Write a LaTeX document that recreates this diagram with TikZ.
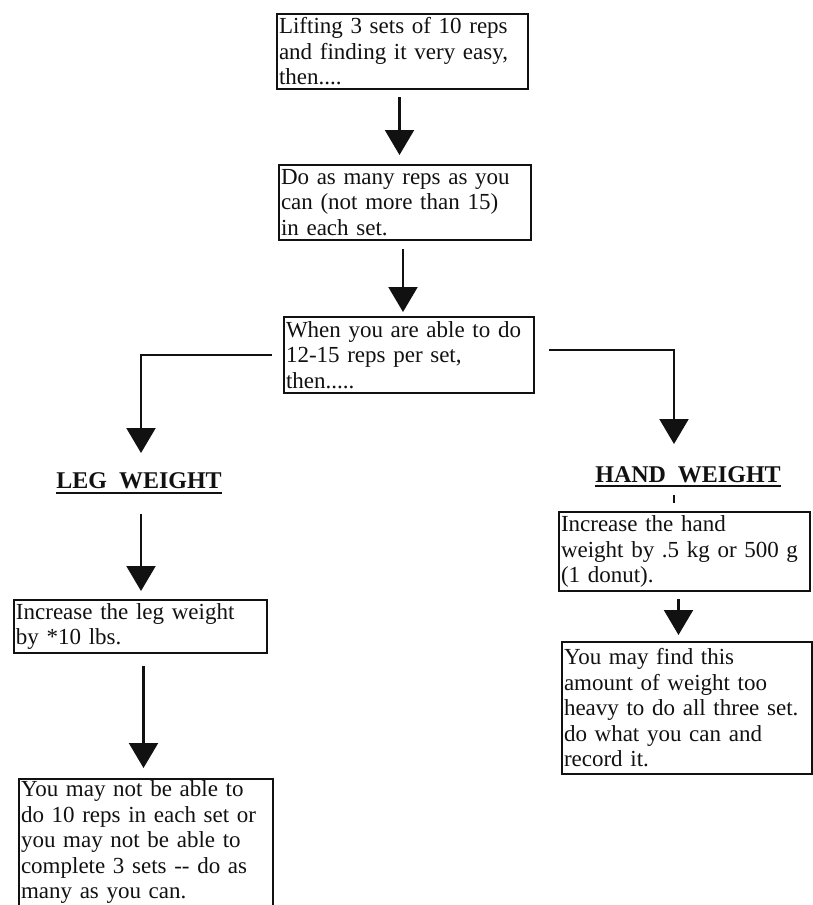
\documentclass[tikz,border=0pt]{standalone}
\usepackage{fontspec}
\setmainfont{Liberation Serif}
\usepackage{tikz}
\usetikzlibrary{arrows.meta,positioning}
\definecolor{ink}{HTML}{111111}

\begin{document}
\begin{tikzpicture}[x=1pt,y=-1pt,
  stepBox/.style={draw=ink,line width=2pt,anchor=north west,inner xsep=2pt,inner ysep=2pt,
    align=left,text=ink,font=\fontsize{23}{25.5}\selectfont},
  flow/.style={draw=ink,line width=2.2pt,-{Triangle[width=29pt,length=25pt]}},
  headLabel/.style={anchor=base,inner sep=0pt,text=ink,font=\bfseries\fontsize{24}{25.5}\selectfont}]
  \useasboundingbox (0,0) rectangle (813,905);

  % main column
  \node[stepBox,text width=247pt,minimum height=75pt] (lift) at (276,13)
    {Lifting 3 sets of 10 reps\\and finding it very easy,\\then....};
  \node[stepBox,text width=248pt,minimum height=75pt] (reps) at (278,164)
    {Do as many reps as you\\can (not more than 15)\\in each set.};
  \node[stepBox,text width=246pt,minimum height=76pt] (able) at (283,316)
    {When you are able to do\\12-15 reps per set,\\then.....};
  \draw[flow,shorten <=7pt,shorten >=9pt] ([xshift=-3pt]lift.south) -- ([xshift=-3pt]lift.south |- reps.north);
  \draw[flow,shorten <=8pt,shorten >=4pt] ([xshift=-2pt]reps.south) -- ([xshift=-2pt]reps.south |- able.north);

  % branches
  \coordinate (legTip) at (141,453);
  \coordinate (handTip) at (674,444);
  \draw[flow,shorten <=11pt] (able.west) -| (legTip);
  \draw[flow,shorten <=14pt] ([yshift=5pt]able.east) -| (handTip);

  \node[headLabel] (legHead) at (139,488) {LEG\ \ WEIGHT};
  \node[headLabel] (handHead) at (688,482) {HAND\ \ WEIGHT};
  \draw[ink,line width=2pt] ([yshift=-5pt]legHead.base west) -- ([yshift=-5pt]legHead.base east);
  \draw[ink,line width=2pt] ([yshift=-4pt]handHead.base west) -- ([yshift=-4pt]handHead.base east);

  % leg weight
  \node[stepBox,text width=249pt,minimum height=53pt] (legInc) at (13,599)
    {Increase the leg weight\\by *10 lbs.};
  \node[stepBox,text width=250pt,minimum height=125pt] (legMay) at (18,778)
    {You may not be able to\\do 10 reps in each set or\\you may not be able to\\complete 3 sets -{}- do as\\many as you can.};
  \draw[flow,shorten >=8pt] ([yshift=-26pt]legTip |- legHead.base) -- (legTip |- legInc.north);
  \draw[flow,shorten <=12pt,shorten >=10pt] ([xshift=3pt]legInc.south) -- ([xshift=3pt]legInc.south |- legMay.north);

  % hand weight
  \node[stepBox,text width=247pt,minimum height=79pt] (handInc) at (558,511)
    {Increase the hand\\weight by .5 kg or 500 g\\(1 donut).};
  \node[stepBox,text width=246pt,minimum height=132pt] (handFind) at (561,641)
    {You may find this\\amount of weight too\\heavy to do all three set.\\do what you can and\\record it.};
  \draw[ink,line width=2pt] ([yshift=-13pt]handTip |- handHead.base) -- ++(0,8);
  \draw[flow,shorten <=7pt,shorten >=6pt] ([xshift=-6pt]handInc.south) -- ([xshift=-6pt]handInc.south |- handFind.north);
\end{tikzpicture}
\end{document}
